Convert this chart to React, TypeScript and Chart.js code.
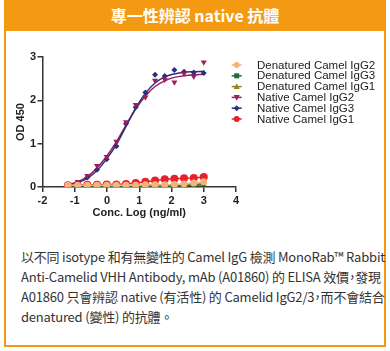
import React, { useEffect, useRef } from "react";
import { Chart, registerables } from "chart.js";

Chart.register(...registerables);

const logConc = [-1.21, -0.91, -0.61, -0.31, -0.01, 0.29, 0.59, 0.89, 1.19, 1.49, 1.79, 2.09, 2.39, 2.69, 3.0];

const denaturedIgG2 = [0.04, 0.04, 0.04, 0.04, 0.04, 0.04, 0.04, 0.04, 0.05, 0.05, 0.05, 0.06, 0.07, 0.09, 0.12];
const denaturedIgG3 = [0.02, 0.02, 0.02, 0.02, 0.02, 0.02, 0.02, 0.02, 0.02, 0.02, 0.02, 0.02, 0.03, 0.04, 0.05];
const denaturedIgG1 = [0.03, 0.03, 0.03, 0.03, 0.03, 0.03, 0.03, 0.03, 0.03, 0.03, 0.03, 0.04, 0.05, 0.06, 0.08];
const nativeIgG2 = [0.05, 0.12, 0.26, 0.49, 0.7, 1.05, 1.5, 1.9, 2.07, 2.46, 2.48, 2.42, 2.62, 2.55, 2.88];
const nativeIgG3 = [0.04, 0.1, 0.22, 0.4, 0.64, 0.94, 1.46, 1.84, 2.18, 2.59, 2.56, 2.7, 2.66, 2.64, 2.63];
const nativeIgG1 = [0.04, 0.04, 0.05, 0.05, 0.06, 0.06, 0.07, 0.09, 0.12, 0.15, 0.18, 0.19, 0.2, 0.21, 0.23];

// fitted curves
const nativeIgG2Fit = [0.05, 0.12, 0.24, 0.44, 0.71, 1.04, 1.43, 1.8, 2.1, 2.32, 2.45, 2.53, 2.57, 2.59, 2.6];
const nativeIgG3Fit = [0.04, 0.1, 0.2, 0.38, 0.65, 0.98, 1.4, 1.82, 2.16, 2.4, 2.54, 2.61, 2.65, 2.66, 2.67];

const xTicks = [-2, -1, 0, 1, 2, 3, 4];
const yTicks = [0, 1, 2, 3];

const seriesNames = [
  "Denatured Camel IgG2",
  "Denatured Camel IgG3",
  "Denatured Camel IgG1",
  "Native Camel IgG2",
  "Native Camel IgG3",
  "Native Camel IgG1",
];

const ORANGE = "#F39A12";

const styles = [
  { color: "#F2B47C", point: "circle", radius: 3.5, rot: 0 },
  { color: "#1F6B3B", point: "rect", radius: 2.5, rot: 0 },
  { color: "#8C8A22", point: "triangle", radius: 3.5, rot: 0 },
  { color: "#9C1F5C", point: "triangle", radius: 3.5, rot: 180 },
  { color: "#2D2F7F", point: "rectRot", radius: 3, rot: 0 },
  { color: "#E8212B", point: "circle", radius: 4, rot: 0 },
];

function toXY(vals: number[]) {
  return vals.map((v, i) => ({ x: logConc[i], y: v }));
}

function drawMarker(ctx: CanvasRenderingContext2D, kind: string, x: number, y: number, r: number, rot: number, color: string) {
  ctx.save();
  ctx.fillStyle = color;
  ctx.strokeStyle = color;
  ctx.translate(x, y);
  ctx.rotate((rot * Math.PI) / 180);
  ctx.beginPath();
  if (kind === "circle") {
    ctx.arc(0, 0, r, 0, Math.PI * 2);
  } else if (kind === "rect") {
    ctx.rect(-r, -r, 2 * r, 2 * r);
  } else if (kind === "triangle") {
    ctx.moveTo(0, -r * 1.1);
    ctx.lineTo(r, r * 0.8);
    ctx.lineTo(-r, r * 0.8);
    ctx.closePath();
  } else if (kind === "rectRot") {
    ctx.moveTo(0, -r);
    ctx.lineTo(r, 0);
    ctx.lineTo(0, r);
    ctx.lineTo(-r, 0);
    ctx.closePath();
  }
  ctx.fill();
  ctx.restore();
}

const legendPlugin = {
  id: "customLegend",
  afterDraw(chart: any) {
    const ctx = chart.ctx as CanvasRenderingContext2D;
    const ca = chart.chartArea;
    const x0 = ca.right + 0.7;
    const y0 = 34;
    const step = 10.8;
    ctx.save();
    ctx.font = "11.5px 'Liberation Sans', Arial, sans-serif";
    ctx.textBaseline = "middle";
    ctx.textAlign = "left";
    seriesNames.forEach((name, i) => {
      const s = styles[i];
      const y = y0 + i * step;
      ctx.strokeStyle = s.color;
      ctx.lineWidth = 1.5;
      ctx.beginPath();
      ctx.moveTo(x0 - 5, y);
      ctx.lineTo(x0 + 5, y);
      ctx.stroke();
      drawMarker(ctx, s.point, x0, y, Math.min(s.radius, 3), s.rot, s.color);
      ctx.fillStyle = "#222";
      ctx.fillText(name, x0 + 20.3, y + 0.5);
    });
    ctx.restore();
  },
};

function ChartBox() {
  const ref = useRef<HTMLCanvasElement | null>(null);
  useEffect(() => {
    if (!ref.current) return;
    const pointSets = [denaturedIgG2, denaturedIgG3, denaturedIgG1, nativeIgG2, nativeIgG3, nativeIgG1];
    const datasets: any[] = pointSets.map((vals, i) => {
      const s = styles[i];
      const isNativeFit = i === 3 || i === 4;
      return {
        label: seriesNames[i],
        data: toXY(vals),
        borderColor: s.color,
        backgroundColor: s.color,
        pointStyle: s.point,
        pointRadius: s.radius,
        pointRotation: s.rot,
        pointBorderWidth: 0,
        borderWidth: 1.5,
        showLine: !isNativeFit,
        order: i,
      };
    });
    datasets.push({
      label: "fitIgG2",
      data: toXY(nativeIgG2Fit),
      borderColor: styles[3].color,
      backgroundColor: styles[3].color,
      pointRadius: 0,
      borderWidth: 1.5,
      cubicInterpolationMode: "monotone",
      showLine: true,
      order: 7,
    });
    datasets.push({
      label: "fitIgG3",
      data: toXY(nativeIgG3Fit),
      borderColor: styles[4].color,
      backgroundColor: styles[4].color,
      pointRadius: 0,
      borderWidth: 1.5,
      cubicInterpolationMode: "monotone",
      showLine: true,
      order: 6,
    });

    const tickFont = { family: "'Liberation Sans', Arial, sans-serif", size: 11, weight: "bold" as const };
    const chart = new Chart(ref.current, {
      type: "scatter",
      data: { datasets },
      plugins: [legendPlugin],
      options: {
        animation: false,
        responsive: false,
        maintainAspectRatio: false,
        layout: { padding: { top: 26, left: 8, right: 148, bottom: 0 } },
        plugins: { legend: { display: false }, tooltip: { enabled: false } },
        scales: {
          x: {
            type: "linear",
            min: xTicks[0],
            max: xTicks[xTicks.length - 1],
            afterBuildTicks: (scale: any) => {
              scale.ticks = xTicks.map((v) => ({ value: v }));
            },
            afterFit: (scale: any) => {
              scale.height = 38;
            },
            ticks: { font: tickFont, color: "#222", padding: 2, maxRotation: 0, autoSkip: false },
            grid: { drawOnChartArea: false, drawTicks: true, tickLength: 5, color: "#333", lineWidth: 1.5 },
            border: { display: true, color: "#333", width: 1.5 },
            title: {
              display: true,
              text: "Conc. Log (ng/ml)",
              font: tickFont,
              color: "#222",
              padding: { top: 0, bottom: 5 },
            },
          },
          y: {
            type: "linear",
            min: yTicks[0],
            max: yTicks[yTicks.length - 1],
            afterBuildTicks: (scale: any) => {
              scale.ticks = yTicks.map((v) => ({ value: v }));
            },
            afterFit: (scale: any) => {
              scale.width = 28.5;
            },
            ticks: { font: tickFont, color: "#222", padding: 1.5 },
            grid: { drawOnChartArea: false, drawTicks: true, tickLength: 5, color: "#333", lineWidth: 1.5 },
            border: { display: true, color: "#333", width: 1.5 },
            title: {
              display: true,
              text: "OD 450",
              font: tickFont,
              color: "#222",
              padding: 0,
            },
          },
        },
      } as any,
    });
    return () => chart.destroy();
  }, []);
  return <canvas ref={ref} width={378} height={194} style={{ width: 378, height: 194, display: "block" }} />;
}

export default function App() {
  const cjk = "'Noto Sans CJK TC', 'Noto Sans', sans-serif";
  const half = { fontFeatureSettings: '"halt"' } as React.CSSProperties;
  return (
    <div style={{ position: "absolute", left: 0, top: 0, width: 390, height: 351, background: "#fff" }}>
      <div
        style={{
          position: "absolute",
          left: 4,
          top: 0,
          width: 382,
          height: 347,
          border: `2px solid ${ORANGE}`,
          boxSizing: "border-box",
        }}
      />
      <div
        style={{
          position: "absolute",
          left: 4,
          top: 0,
          width: 382,
          height: 31,
          background: ORANGE,
          color: "#fff",
          fontFamily: cjk,
          fontWeight: 700,
          fontSize: 16,
          lineHeight: "31px",
          textAlign: "center",
        }}
      >
        專一性辨認 native 抗體
      </div>
      <div style={{ position: "absolute", left: 6, top: 31, width: 378, height: 194 }}>
        <ChartBox />
      </div>
      <div
        style={{
          position: "absolute",
          left: 21,
          top: 247,
          width: 366,
          fontFamily: cjk,
          fontSize: 13,
          lineHeight: "20px",
          color: "#333",
          whiteSpace: "nowrap",
          letterSpacing: "-0.2px",
        }}
      >
        以不同 isotype 和有無變性的 Camel IgG 檢測 MonoRab™ Rabbit
        <br />
        Anti-Camelid VHH Antibody, mAb (A01860) 的 ELISA 效價<span style={half}>，</span>發現
        <br />
        A01860 只會辨認 native (有活性) 的 Camelid IgG2/3<span style={half}>，</span>而不會結合
        <br />
        denatured (變性) 的抗體。
      </div>
    </div>
  );
}
